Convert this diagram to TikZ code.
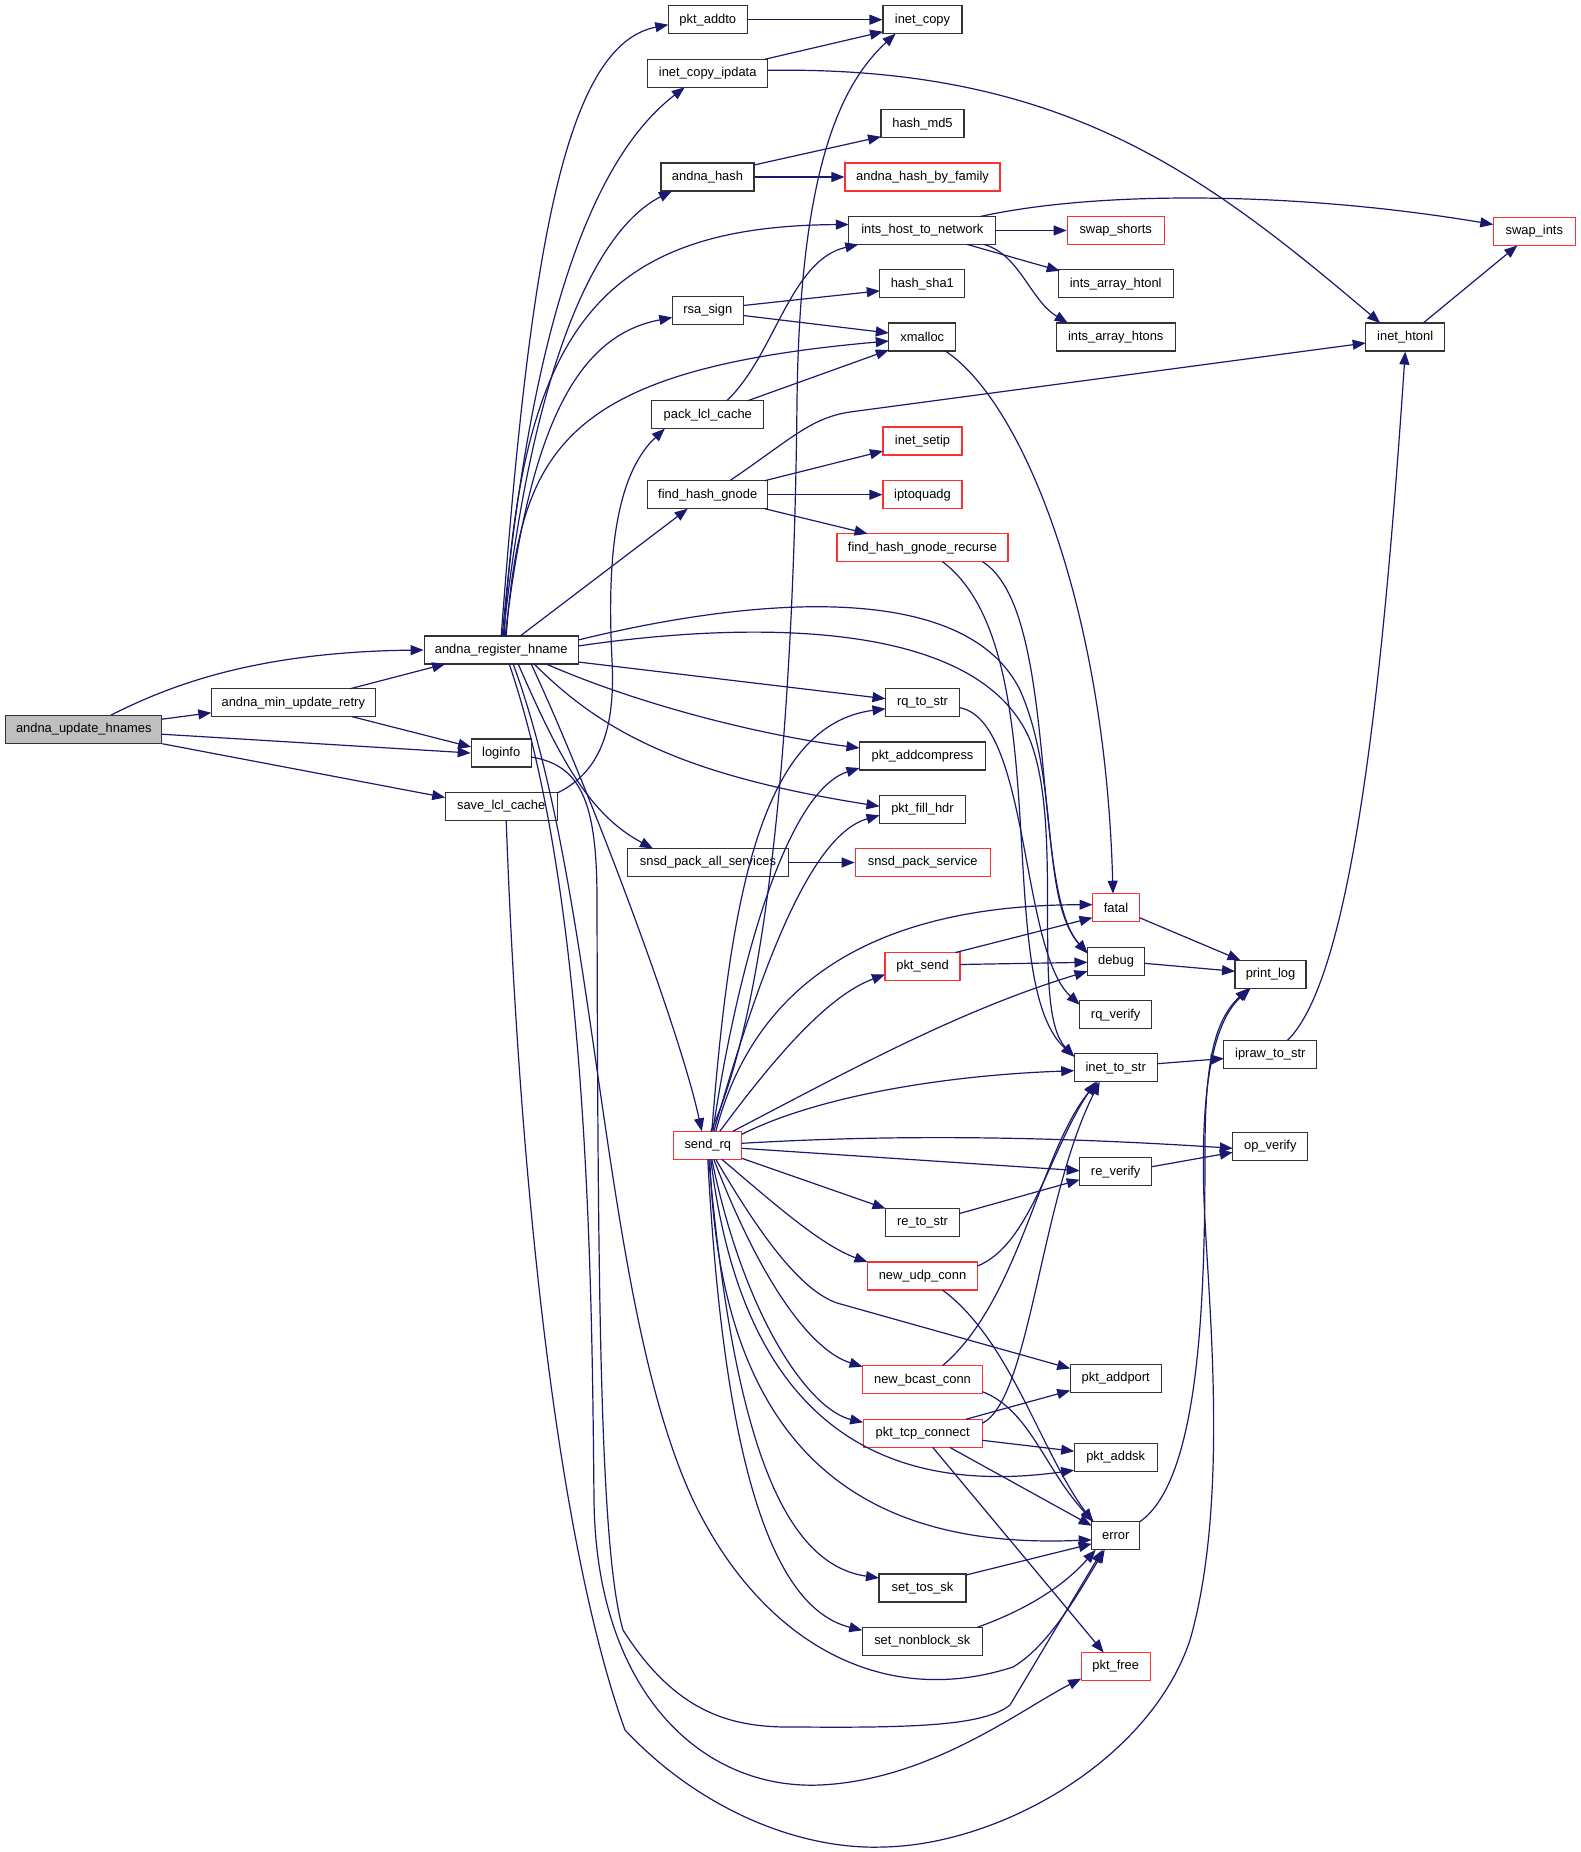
\documentclass[tikz,border=0pt]{standalone}
\usepackage{fontspec}
\setmainfont{Liberation Sans}
\usetikzlibrary{calc,arrows.meta}
\definecolor{edgec}{HTML}{191970}
\definecolor{boxred}{HTML}{FF3030}
\definecolor{boxblk}{HTML}{333333}
\definecolor{grayfill}{HTML}{BFBFBF}
\begin{document}
\begin{tikzpicture}[x=1pt,y=-1pt,
  nb/.style={draw=boxblk, line width=1.1pt, fill=white, minimum height=28pt, inner sep=0pt, font=\fontsize{12.9}{14}\selectfont, text=black},
  nr/.style={nb, draw=boxred},
  e/.style={draw=edgec, line width=1.2pt, -{Triangle[length=13pt,width=10pt]}}]
\fill[white] (0,0) rectangle (1581,1852);
\useasboundingbox (0,0) rectangle (1581,1852);
% nodes
\node[nb, minimum width=156pt, fill=grayfill] (U) at (83.8,729.2) {andna\_update\_hnames};
\node[nb, minimum width=164pt] (MUR) at (293.3,702.7) {andna\_min\_update\_retry};
\node[nb, minimum width=154pt] (ARH) at (501.2,650) {andna\_register\_hname};
\node[nb, minimum width=60pt] (LOG) at (501.2,753) {loginfo};
\node[nb, minimum width=112pt] (SLC) at (501.2,806.5) {save\_lcl\_cache};
\node[nb, minimum width=79pt] (PADDTO) at (707.8,19.7) {pkt\_addto};
\node[nb, minimum width=120pt] (ICIP) at (707.7,73.3) {inet\_copy\_ipdata};
\node[nb, minimum width=93pt] (AHASH) at (707.5,177) {andna\_hash};
\node[nb, minimum width=71pt] (RSA) at (707.8,310.5) {rsa\_sign};
\node[nb, minimum width=112pt] (PLC) at (707.8,414.7) {pack\_lcl\_cache};
\node[nb, minimum width=120pt] (FHG) at (707.7,494.7) {find\_hash\_gnode};
\node[nb, minimum width=161pt] (SPAS) at (708,862.5) {snsd\_pack\_all\_services};
\node[nr, minimum width=68pt] (SRQ) at (707.8,1145.3) {send\_rq};
\node[nb, minimum width=79pt] (ICOPY) at (922.5,19.7) {inet\_copy};
\node[nb, minimum width=83pt] (MD5) at (922.5,123.7) {hash\_md5};
\node[nr, minimum width=155pt] (AHBF) at (922.5,177) {andna\_hash\_by\_family};
\node[nb, minimum width=147pt] (IHTN) at (922.3,230.5) {ints\_host\_to\_network};
\node[nb, minimum width=85pt] (SHA1) at (922.3,283.8) {hash\_sha1};
\node[nb, minimum width=67pt] (XM) at (922.3,337) {xmalloc};
\node[nr, minimum width=79pt] (ISETIP) at (922.5,441) {inet\_setip};
\node[nr, minimum width=79pt] (IPQ) at (922.5,494.7) {iptoquadg};
\node[nr, minimum width=171pt] (FHGR) at (922.5,547.7) {find\_hash\_gnode\_recurse};
\node[nb, minimum width=74pt] (RQS) at (922.5,702.7) {rq\_to\_str};
\node[nb, minimum width=126pt] (PAC) at (922.5,756) {pkt\_addcompress};
\node[nb, minimum width=86pt] (PFH) at (922.5,809.3) {pkt\_fill\_hdr};
\node[nr, minimum width=135pt] (SPS) at (922.7,862.5) {snsd\_pack\_service};
\node[nr, minimum width=75pt] (PSEND) at (922.5,966.5) {pkt\_send};
\node[nb, minimum width=74pt] (RES) at (922.5,1222.5) {re\_to\_str};
\node[nr, minimum width=110pt] (NUDP) at (922.5,1276) {new\_udp\_conn};
\node[nr, minimum width=120pt] (NBC) at (922.5,1379.7) {new\_bcast\_conn};
\node[nr, minimum width=119pt] (PTC) at (922.7,1433.3) {pkt\_tcp\_connect};
\node[nb, minimum width=87pt] (STOS) at (922.5,1588) {set\_tos\_sk};
\node[nb, minimum width=120pt] (SNB) at (922.3,1641.3) {set\_nonblock\_sk};
\node[nr, minimum width=97pt] (SWS) at (1115.7,230.5) {swap\_shorts};
\node[nb, minimum width=115pt] (IAL) at (1115.7,283.8) {ints\_array\_htonl};
\node[nb, minimum width=119pt] (IAS) at (1115.7,337) {ints\_array\_htons};
\node[nr, minimum width=47pt] (FATAL) at (1116,907.7) {fatal};
\node[nb, minimum width=57pt] (DEBUG) at (1116,961.3) {debug};
\node[nb, minimum width=72pt] (RQV) at (1115.7,1014.7) {rq\_verify};
\node[nb, minimum width=83pt] (ITS) at (1115.7,1067.7) {inet\_to\_str};
\node[nb, minimum width=72pt] (REV) at (1115.7,1171.7) {re\_verify};
\node[nb, minimum width=91pt] (PAP) at (1115.7,1378.5) {pkt\_addport};
\node[nb, minimum width=83pt] (PASK) at (1115.7,1457.2) {pkt\_addsk};
\node[nb, minimum width=48pt] (ERR) at (1115.7,1535.8) {error};
\node[nr, minimum width=69pt] (PFREE) at (1115.7,1666.5) {pkt\_free};
\node[nb, minimum width=71pt] (PLOG) at (1270.5,974.3) {print\_log};
\node[nb, minimum width=93pt] (IPRAW) at (1270.3,1054.5) {ipraw\_to\_str};
\node[nb, minimum width=75pt] (OPV) at (1270.3,1146.3) {op\_verify};
\node[nb, minimum width=79pt] (IHTONL) at (1405.2,337) {inet\_htonl};
\node[nr, minimum width=82pt] (SWI) at (1534.3,231.5) {swap\_ints};
% edges from andna_update_hnames / min_update_retry
\draw[e] ($(U)+(27,-14)$) .. controls (165,688) and (250,652) .. (ARH.west);
\draw[e] ($(U)+(78,-10)$) -- ($(MUR)+(-82,10)$);
\draw[e] ($(U)+(78,5)$) -- (LOG.west);
\draw[e] (U.south east) -- ($(SLC)+(-56,-9)$);
\draw[e] ($(MUR)+(57,-14)$) -- ($(ARH)+(-56,14)$);
\draw[e] ($(MUR)+(59,14)$) -- ($(LOG)+(-30,-6)$);
% andna_register_hname
\draw[e] ($(ARH)+(0,-14)$) .. controls (530,250) and (565,45) .. ($(PADDTO)+(-39.5,5)$);
\draw[e] ($(ARH)+(1,-14)$) .. controls (530,330) and (590,160) .. ($(ICIP)+(-23,14)$);
\draw[e] ($(ARH)+(2,-14)$) .. controls (528,400) and (585,235) .. ($(AHASH)+(-35.5,14)$);
\draw[e] ($(ARH)+(3,-14)$) .. controls (520,330) and (600,226) .. ($(IHTN)+(-73.5,-6)$);
\draw[e] ($(ARH)+(4,-14)$) .. controls (530,420) and (580,335) .. ($(RSA)+(-35.5,7)$);
\draw[e] ($(ARH)+(5,-14)$) .. controls (520,450) and (560,370) .. ($(XM)+(-33.5,4)$);
\draw[e] ($(ARH)+(19,-14)$) -- ($(FHG)+(-20,14)$);
\draw[e] ($(ARH)+(77,-10)$) .. controls (720,605) and (960,570) .. (1020,690) .. controls (1060,780) and (1040,900) .. ($(DEBUG)+(-28.5,-8)$);
\draw[e] ($(ARH)+(77,-4)$) .. controls (720,625) and (975,610) .. (1030,740) .. controls (1065,830) and (1030,1010) .. ($(ITS)+(-41.5,-11)$);
\draw[e] ($(ARH)+(77,12)$) -- ($(RQS)+(-37,-4)$);
\draw[e] ($(ARH)+(45,14)$) .. controls (640,705) and (760,735) .. ($(PAC)+(-63,-8)$);
\draw[e] ($(ARH)+(33,14)$) .. controls (600,730) and (680,775) .. ($(PFH)+(-43,-3)$);
\draw[e] ($(ARH)+(17,14)$) .. controls (560,760) and (590,815) .. ($(SPAS)+(-55,-14)$);
\draw[e] ($(ARH)+(30,14)$) .. controls (590,790) and (680,1030) .. ($(SRQ)+(-6,-14)$);
\draw[e] ($(ARH)+(12,14)$) .. controls (600,900) and (600,1300) .. (693,1500) .. controls (760,1640) and (880,1710) .. (1013,1667) .. controls (1050,1645) and (1080,1590) .. ($(ERR)+(-11,14)$);
\draw[e] ($(ARH)+(8,14)$) .. controls (590,900) and (592,1300) .. (594,1500) .. controls (596,1690) and (700,1790) .. (820,1785) .. controls (930,1780) and (1020,1710) .. ($(PFREE)+(-34.5,12)$);
% loginfo / save_lcl_cache
\draw[e] ($(SLC)+(5,14)$) .. controls (520,1200) and (560,1550) .. (625,1730) .. controls (700,1810) and (800,1850) .. (883,1847) .. controls (1000,1845) and (1150,1760) .. (1190,1640) .. controls (1230,1500) and (1208,1300) .. (1204,1200) .. controls (1200,1080) and (1215,1020) .. ($(PLOG)+(-20,14)$);
\draw[e] ($(LOG)+(30,4)$) .. controls (580,765) and (597,800) .. (597,900) .. controls (598,1300) and (600,1550) .. (623,1630) .. controls (680,1720) and (740,1728) .. (800,1727) .. controls (920,1728) and (985,1725) .. (1010,1705) -- ($(ERR)+(-13,14)$);
\draw[e] ($(SLC)+(56,-13.5)$) .. controls (605,770) and (615,720) .. (612,660) .. controls (608,580) and (610,480) .. ($(PLC)+(-43,14)$);
% pack_lcl_cache, rsa_sign, andna_hash, pkt_addto, inet_copy_ipdata
\draw[e] ($(PLC)+(19,-14)$) .. controls (775,355) and (790,260) .. ($(IHTN)+(-64,14)$);
\draw[e] ($(PLC)+(40,-14)$) -- ($(XM)+(-33.5,13)$);
\draw[e] ($(RSA)+(35.5,-5)$) -- ($(SHA1)+(-42.5,7)$);
\draw[e] ($(RSA)+(35.5,5)$) -- ($(XM)+(-33.5,-4)$);
\draw[e] ($(AHASH)+(46.5,-12)$) -- ($(MD5)+(-41.5,13)$);
\draw[e] (AHASH.east) -- (AHBF.west);
\draw[e] (PADDTO.east) -- (ICOPY.west);
\draw[e] ($(ICIP)+(57,-14)$) -- ($(ICOPY)+(-39.5,12)$);
\draw[e] ($(ICIP)+(60,-3)$) .. controls (1060,66) and (1200,170) .. ($(IHTONL)+(-25,-14)$);
% ints_host_to_network
\draw[e] (IHTN.east) -- (SWS.west);
\draw[e] ($(IHTN)+(58,-14)$) .. controls (1100,190) and (1300,192) .. ($(SWI)+(-41,-7)$);
\draw[e] ($(IHTN)+(45,14)$) -- ($(IAL)+(-56,-13)$);
\draw[e] ($(IHTN)+(62,14)$) .. controls (1020,255) and (1030,300) .. ($(IAS)+(-48,-14)$);
% find_hash_gnode
\draw[e] ($(FHG)+(22,-14)$) .. controls (790,440) and (810,418) .. (850,412) -- ($(IHTONL)+(-39.5,6)$);
\draw[e] ($(FHG)+(57,-14)$) -- ($(ISETIP)+(-39.5,10)$);
\draw[e] (FHG.east) -- (IPQ.west);
\draw[e] ($(FHG)+(57,14)$) -- ($(FHGR)+(-55,-14)$);
\draw[e] ($(FHGR)+(20,14)$) .. controls (1060,650) and (990,980) .. ($(ITS)+(-41.5,-11)$);
\draw[e] ($(FHGR)+(60,14)$) .. controls (1060,610) and (1030,890) .. ($(DEBUG)+(-28.5,-8)$);
\draw[e] ($(RQS)+(37,5)$) .. controls (1030,720) and (1020,950) .. ($(RQV)+(-36,-10)$);
\draw[e] ($(XM)+(23,14)$) .. controls (1020,400) and (1105,600) .. ($(FATAL)+(-3,-14)$);
\draw[e] (SPAS.east) -- (SPS.west);
% send_rq
\draw[e] ($(SRQ)+(3,-14)$) .. controls (780,980) and (795,620) .. (797,400) .. controls (800,170) and (840,85) .. ($(ICOPY)+(-27,14)$);
\draw[e] ($(SRQ)+(4,-14)$) .. controls (730,900) and (760,725) .. ($(RQS)+(-37,6)$);
\draw[e] ($(SRQ)+(5,-14)$) .. controls (740,950) and (790,790) .. ($(PAC)+(-63,12)$);
\draw[e] ($(SRQ)+(6,-14)$) .. controls (760,970) and (810,835) .. ($(PFH)+(-43,6)$);
\draw[e] ($(SRQ)+(8,-14)$) .. controls (745,1020) and (830,905) .. ($(FATAL)+(-23.5,-3)$);
\draw[e] ($(SRQ)+(12,-14)$) .. controls (780,1050) and (830,995) .. ($(PSEND)+(-37.5,8)$);
\draw[e] ($(SRQ)+(25,-14)$) .. controls (850,1070) and (960,1010) .. ($(DEBUG)+(-28.5,10)$);
\draw[e] ($(SRQ)+(34,-11)$) .. controls (820,1095) and (950,1075) .. ($(ITS)+(-41.5,3)$);
\draw[e] ($(SRQ)+(34,-2)$) .. controls (850,1137) and (1000,1133) .. ($(OPV)+(-37.5,2)$);
\draw[e] ($(SRQ)+(34,3)$) -- ($(REV)+(-36,-1)$);
\draw[e] ($(SRQ)+(34,13)$) -- ($(RES)+(-37,-14)$);
\draw[e] ($(SRQ)+(14,14)$) .. controls (770,1200) and (820,1245) .. ($(NUDP)+(-55,-14)$);
\draw[e] ($(SRQ)+(8,14)$) .. controls (760,1235) and (800,1290) .. (837,1303) -- ($(PAP)+(-45.5,-10)$);
\draw[e] ($(SRQ)+(6,14)$) .. controls (760,1280) and (810,1350) .. ($(NBC)+(-60,-13)$);
\draw[e] ($(SRQ)+(4,14)$) .. controls (745,1320) and (810,1410) .. ($(PTC)+(-59.5,-11)$);
\draw[e] ($(SRQ)+(3,14)$) .. controls (740,1400) and (860,1500) .. ($(PASK)+(-41.5,13)$);
\draw[e] ($(SRQ)+(2,14)$) .. controls (720,1450) and (860,1550) .. ($(ERR)+(-24,4)$);
\draw[e] ($(SRQ)+(1,14)$) .. controls (735,1460) and (790,1565) .. ($(STOS)+(-43.5,-10)$);
\draw[e] ($(SRQ)+(0,14)$) .. controls (725,1490) and (780,1610) .. ($(SNB)+(-60,-11)$);
% second level
\draw[e] ($(PSEND)+(33,-14)$) -- ($(FATAL)+(-23.5,10)$);
\draw[e] ($(PSEND)+(37.5,-2)$) -- ($(DEBUG)+(-28.5,1)$);
\draw[e] ($(FATAL)+(23.5,10)$) -- ($(PLOG)+(-30,-14)$);
\draw[e] ($(DEBUG)+(28.5,2)$) -- ($(PLOG)+(-35.5,-3)$);
\draw[e] ($(ITS)+(41.5,-4)$) -- ($(IPRAW)+(-46.5,4)$);
\draw[e] ($(IPRAW)+(17,-14)$) .. controls (1350,980) and (1382,700) .. (IHTONL.south);
\draw[e] ($(IHTONL)+(18,-14)$) -- ($(SWI)+(-17,14)$);
\draw[e] ($(REV)+(36,-5)$) -- ($(OPV)+(-37.5,6)$);
\draw[e] ($(RES)+(37,-9)$) -- ($(REV)+(-36,8)$);
\draw[e] ($(NUDP)+(55,-10)$) .. controls (1030,1245) and (1050,1150) .. ($(ITS)+(-20,14)$);
\draw[e] ($(NBC)+(20,-14)$) .. controls (1020,1300) and (1040,1150) .. ($(ITS)+(-18,14)$);
\draw[e] ($(PTC)+(59.5,-10)$) .. controls (1030,1400) and (1040,1200) .. ($(ITS)+(-16,14)$);
\draw[e] ($(NUDP)+(20,14)$) .. controls (1010,1340) and (1040,1450) .. ($(ERR)+(-23,-14)$);
\draw[e] ($(NBC)+(60,12)$) .. controls (1030,1410) and (1045,1470) .. ($(ERR)+(-22,-14)$);
\draw[e] ($(PTC)+(27,14)$) -- ($(ERR)+(-24,-10)$);
\draw[e] ($(PTC)+(43,-14)$) -- ($(PAP)+(-45.5,12)$);
\draw[e] ($(PTC)+(59.5,7)$) -- ($(PASK)+(-41.5,-6)$);
\draw[e] ($(PTC)+(10,14)$) -- ($(PFREE)+(-12,-14)$);
\draw[e] ($(STOS)+(43.5,-13)$) -- ($(ERR)+(-24,8)$);
\draw[e] ($(SNB)+(55,-14)$) .. controls (1020,1612) and (1060,1590) .. ($(ERR)+(-20,14)$);
\draw[e] ($(ERR)+(24,-14)$) .. controls (1200,1480) and (1205,1300) .. (1205,1150) .. controls (1205,1060) and (1215,1020) .. ($(PLOG)+(-22,14)$);
\end{tikzpicture}
\end{document}
